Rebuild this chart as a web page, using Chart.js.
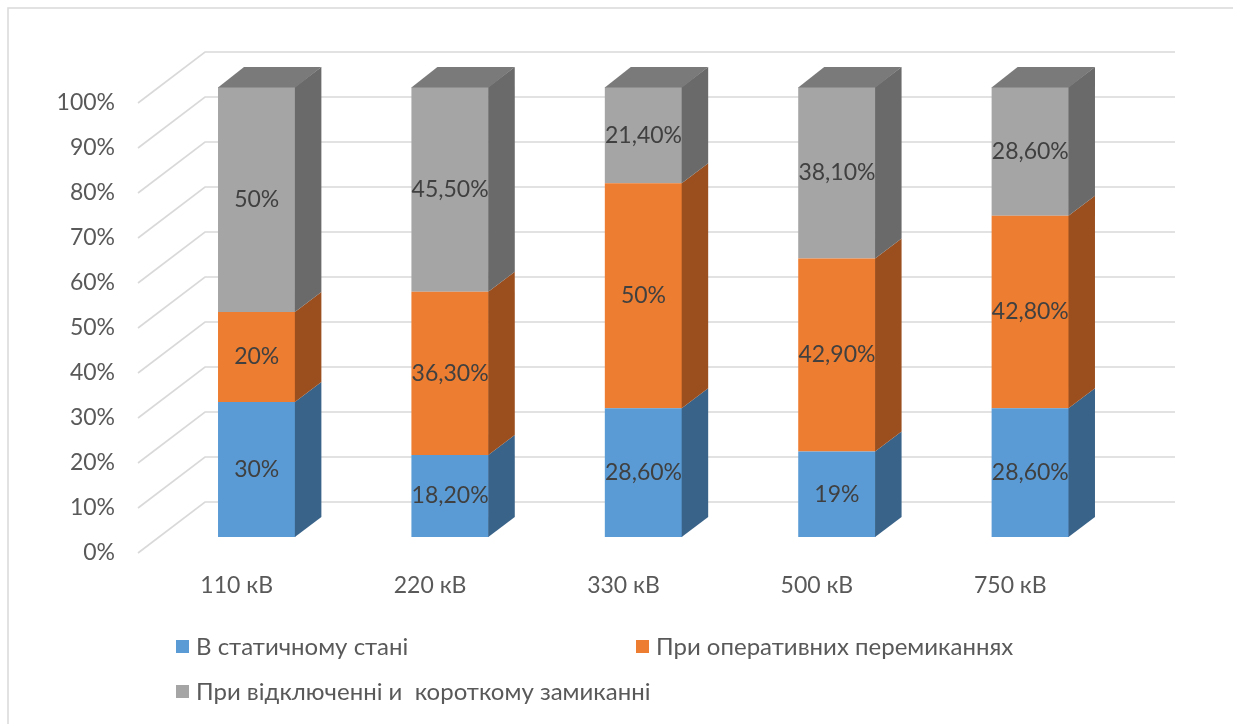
<!DOCTYPE html>
<html>
<head>
<meta charset="utf-8">
<script src="https://cdn.jsdelivr.net/npm/chart.js@4.4.1/dist/chart.umd.min.js"></script>
<style>
  html, body { margin: 0; padding: 0; background: #fff; overflow: hidden; }
  #wrap { position: relative; width: 1233px; height: 724px; }
</style>
</head>
<body>
<div id="wrap"><canvas id="chart"></canvas></div>
<script>
const categories = ["110 кВ", "220 кВ", "330 кВ", "500 кВ", "750 кВ"];
const staticState = [30, 18.2, 28.6, 19, 28.6];
const switching = [20, 36.3, 50, 42.9, 42.8];
const shortCircuit = [50, 45.5, 21.4, 38.1, 28.6];
const seriesNames = ["В статичному стані", "При оперативних перемиканнях", "При відключенні и  короткому замиканні"];
const yTicks = [0, 10, 20, 30, 40, 50, 60, 70, 80, 90, 100];

const frontColors = ["#5b9bd5", "#ed7d31", "#a5a5a5"];
const sideColors = ["#3a6389", "#9b4f1e", "#6a6a6a"];
const topColor = "#7a7a7a";
const FONT = "Lato";
const FSIZE = 23;
const LEGEND_SIZE = 24;
const DX = 26, DY = -20;   // bar depth

function pct(v) {
  return Number.isInteger(v) ? v + "%" : v.toFixed(2).replace(".", ",") + "%";
}

const bar3d = {
  id: "bar3d",
  beforeDraw(chart) {
    const { ctx, width, height } = chart;
    ctx.save();
    ctx.fillStyle = "#fff";
    ctx.fillRect(0, 0, width, height);
    ctx.strokeStyle = "#d9d9d9";
    ctx.lineWidth = 1.5;
    ctx.beginPath();
    ctx.moveTo(8, height); ctx.lineTo(8, 8); ctx.lineTo(width, 8);
    ctx.stroke();
    ctx.restore();
  },
  beforeDatasetsDraw(chart) {
    const { ctx, chartArea: a, scales: { y } } = chart;
    ctx.save();
    ctx.strokeStyle = "#d9d9d9";
    ctx.lineWidth = 1.6;
    yTicks.forEach(t => {
      const py = y.getPixelForValue(t);
      ctx.beginPath();
      ctx.moveTo(a.left - 22, py + 16);
      ctx.lineTo(a.left + 45, py - 35);
      ctx.lineTo(a.right + 48, py - 35);
      ctx.stroke();
    });
    ctx.restore();
  },
  afterDatasetsDraw(chart) {
    const ctx = chart.ctx;
    const n = chart.data.datasets.length;
    ctx.save();
    chart.data.datasets.forEach((ds, i) => {
      chart.getDatasetMeta(i).data.forEach((bar, j) => {
        const { x, y, base, width } = bar.getProps(["x", "y", "base", "width"], true);
        const l = x - width / 2, r = x + width / 2;
        ctx.fillStyle = sideColors[i];
        ctx.beginPath();
        ctx.moveTo(r - 0.5, y); ctx.lineTo(r + DX, y + DY);
        ctx.lineTo(r + DX, base + DY); ctx.lineTo(r - 0.5, base);
        ctx.closePath(); ctx.fill();
        if (i === n - 1) {
          ctx.fillStyle = topColor;
          ctx.beginPath();
          ctx.moveTo(l, y + 0.5); ctx.lineTo(r, y + 0.5);
          ctx.lineTo(r + DX, y + DY); ctx.lineTo(l + DX, y + DY);
          ctx.closePath(); ctx.fill();
        }
      });
    });
    // value labels
    ctx.font = FSIZE + "px " + FONT;
    ctx.fillStyle = "#404040";
    ctx.textAlign = "center";
    ctx.textBaseline = "middle";
    chart.data.datasets.forEach((ds, i) => {
      chart.getDatasetMeta(i).data.forEach((bar, j) => {
        const { x, y, base } = bar.getProps(["x", "y", "base"], true);
        ctx.fillText(pct(ds.data[j]), x, (y + base) / 2);
      });
    });
    ctx.restore();
  },
  afterDraw(chart) {
    // legend, laid out in two columns like the original
    const ctx = chart.ctx;
    const spots = [[176, 647], [636, 647], [176, 692]];
    ctx.save();
    ctx.font = LEGEND_SIZE + "px " + FONT;
    ctx.textBaseline = "middle";
    ctx.textAlign = "left";
    chart.data.datasets.forEach((ds, i) => {
      const [lx, ly] = spots[i];
      ctx.fillStyle = frontColors[i];
      ctx.fillRect(lx, ly - 7, 13, 13);
      ctx.fillStyle = "#595959";
      ctx.fillText(ds.label, lx + 20, ly);
    });
    ctx.restore();
  }
};

new Chart(document.getElementById("chart"), {
  type: "bar",
  data: {
    labels: categories,
    datasets: [staticState, switching, shortCircuit].map((d, i) => ({
      label: seriesNames[i],
      data: d,
      backgroundColor: frontColors[i],
      borderWidth: 0,
      barPercentage: 0.4,
      categoryPercentage: 1
    }))
  },
  options: {
    responsive: true,
    maintainAspectRatio: false,
    animation: false,
    layout: { padding: { left: 0, right: 106, top: 87, bottom: 107 } },
    plugins: { legend: { display: false }, tooltip: { enabled: false } },
    scales: {
      x: {
        stacked: true,
        clip: false,
        grid: { display: false, drawTicks: false },
        border: { display: false },
        ticks: { color: "#595959", font: { family: FONT, size: FSIZE }, padding: 35, labelOffset: -20 },
        afterFit: s => { s.height = 80; }
      },
      y: {
        stacked: true,
        min: 0,
        max: 100,
        clip: false,
        grid: { display: false, drawTicks: false },
        border: { display: false },
        afterBuildTicks: s => { s.ticks = yTicks.map(v => ({ value: v })); },
        ticks: { color: "#595959", font: { family: FONT, size: FSIZE }, padding: 45, labelOffset: 16, callback: v => v + "%" },
        afterFit: s => { s.width = 160; }
      }
    }
  },
  plugins: [bar3d]
});
</script>
</body>
</html>
